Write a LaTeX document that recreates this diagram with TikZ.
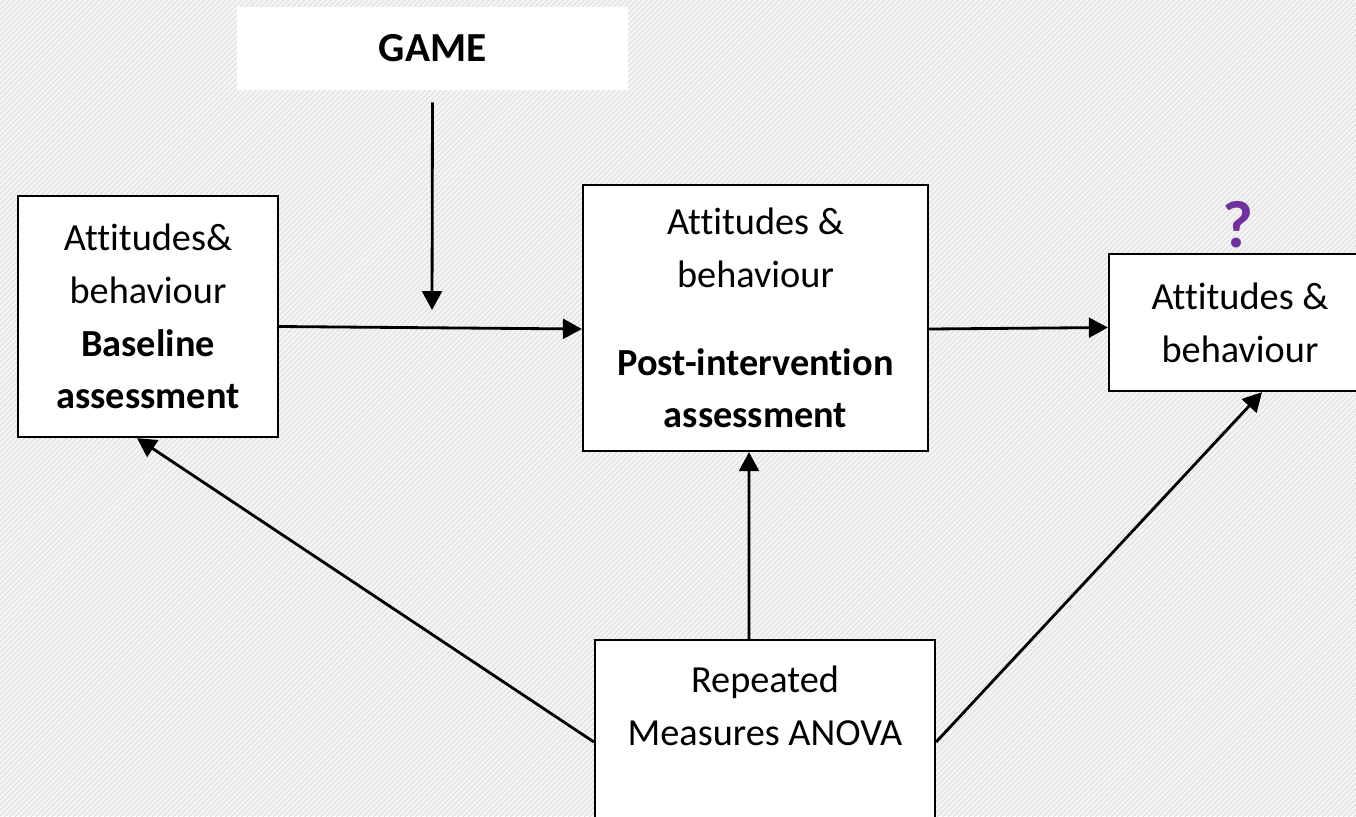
\documentclass[tikz,border=0pt]{standalone}
\usepackage{fontspec}
\setmainfont{Carlito}[Ligatures=NoCommon]
\usetikzlibrary{arrows.meta, patterns}
\definecolor{qpurple}{HTML}{7030A0}

\begin{document}
\begin{tikzpicture}[x=0.02cm, y=-0.02cm,
  every node/.style={align=center, font=\fontsize{21.8}{30}\selectfont},
  box/.style={draw=black, line width=1.3pt, fill=white},
  arr/.style={-{Triangle[length=10.8pt, width=11.3pt]}, line width=1.6pt}]
\useasboundingbox (0,0) rectangle (1356,816);
\clip (0,0) rectangle (1356,816);
\fill[gray!8] (0,0) rectangle (1356,816);
\fill[pattern=north east lines, pattern color=gray!30] (0,0) rectangle (1356,816);

\node[fill=white, minimum width=7.82cm, minimum height=1.66cm, font=\fontsize{23.5}{30}\selectfont] (g) at (432.5,48.5) {\textbf{GAME}};
\node[box, minimum width=5.2cm, minimum height=4.82cm] (b1) at (148,316.5) {Attitudes\&\\behaviour\\\textbf{Baseline}\\\textbf{assessment}};
\node[box, minimum width=6.9cm, minimum height=5.32cm] (b2) at (755.5,318) {Attitudes \&\\behaviour\\[20pt]\textbf{Post-intervention}\\\textbf{assessment}};
\node[box, minimum width=5.24cm, minimum height=2.74cm] (b3) at (1240,322.5) {Attitudes \&\\behaviour};
\node[text=qpurple, font=\fontsize{38}{40}\selectfont\bfseries] (q) at (1238,225) {?};
\node[box, minimum width=6.8cm, minimum height=4.74cm] (r) at (765,758.5) {Repeated\\Measures ANOVA\\~\\~};
\coordinate (gend) at (432,310);

\draw[arr] ([yshift=-0.24cm]g.south) -- (gend);
\draw[arr] ([yshift=-0.2cm]b1.east) -- ([yshift=-0.22cm]b2.west);
\draw[arr] ([yshift=-0.22cm]b2.east) -- ([yshift=-0.1cm]b3.west);
\draw[arr] ([xshift=-0.32cm]r.north) -- ([xshift=-0.13cm]b2.south);
\draw[arr] ([yshift=0.33cm]r.west) -- ([xshift=-0.22cm]b1.south);
\draw[arr] ([yshift=0.33cm]r.east) -- ([xshift=0.44cm]b3.south);
\end{tikzpicture}
\end{document}
